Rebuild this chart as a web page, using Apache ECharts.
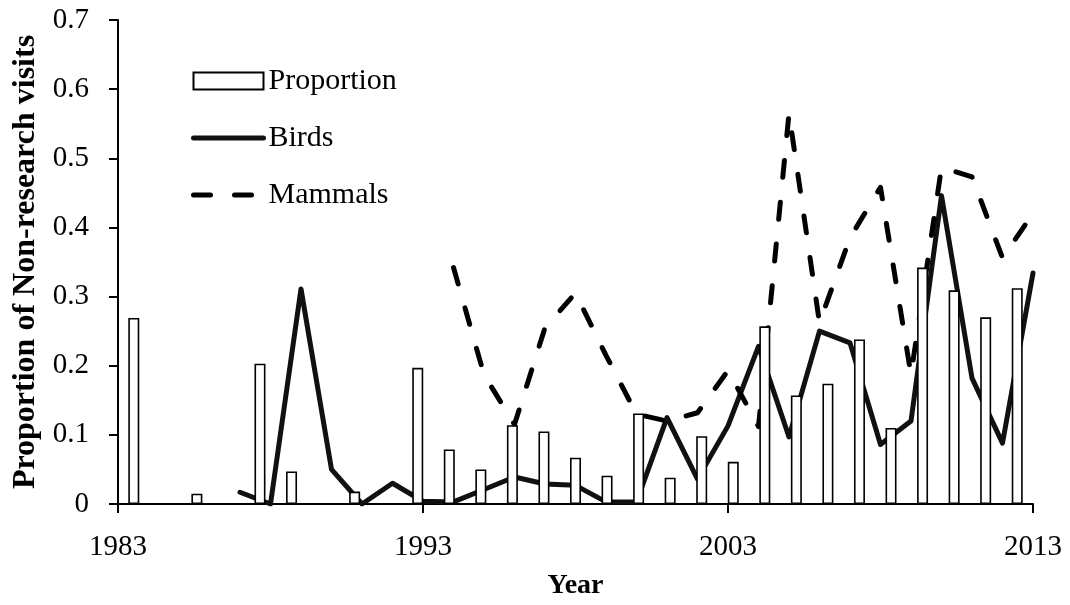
<!DOCTYPE html>
<html>
<head>
<meta charset="utf-8">
<script src="https://cdn.jsdelivr.net/npm/echarts@6/dist/echarts.min.js"></script>
<style>
html,body{margin:0;padding:0;background:#fff;}
#chart{width:1070px;height:605px;}
</style>
</head>
<body>
<div id="chart"></div>
<script>
// Year axis (line series) and tick labels
var years = [];
for (var y = 1983; y <= 2013; y++) years.push(String(y));

// Bar categories (29 bars spanning the plot)
var barCategories = ['1983','1984','1985','1986','1987','1988','1989','1990','1991','1992',
  '1993','1994','1995','1996','1997','1998','1999','2000','2001','2002',
  '2003','2004','2005','2006','2007','2008','2009','2010','2011'];
var proportionValues = [0.269, null, 0.015, null, 0.203, 0.047, null, 0.018, null, 0.197,
  0.079, 0.050, 0.114, 0.105, 0.067, 0.041, 0.131, 0.038, 0.098, 0.061,
  0.257, 0.157, 0.174, 0.238, 0.110, 0.342, 0.309, 0.270, 0.312];

// Birds: 1983..2013
var birdsValues = [null, null, null, null, 0.017, 0.000, 0.311, 0.050, 0.000, 0.030,
  0.004, 0.003, 0.021, 0.039, 0.029, 0.027, 0.003, 0.003, 0.125, 0.036,
  0.113, 0.228, 0.097, 0.250, 0.233, 0.086, 0.120, 0.446, 0.182, 0.088, 0.334];

// Mammals: 1983..2013
var mammalsValues = [null, null, null, null, null, null, null, null, null, null,
  null, 0.342, 0.187, 0.115, 0.255, 0.305, 0.215, 0.130, 0.120, 0.132,
  0.193, 0.112, 0.565, 0.262, 0.385, 0.458, 0.187, 0.487, 0.473, 0.356, 0.420];

var FONT = "'Liberation Serif', 'Times New Roman', serif";

var chart = echarts.init(document.getElementById('chart'), null, {renderer: 'canvas'});
chart.setOption({
  animation: false,
  backgroundColor: '#ffffff',
  grid: {left: 118, right: 37, top: 20, bottom: 100, containLabel: false},
  legend: {
    orient: 'vertical',
    left: 186,
    top: 61,
    itemWidth: 70,
    itemHeight: 17,
    itemGap: 27,
    textStyle: {fontFamily: FONT, fontSize: 30, color: '#000'},
    data: [
      {name: 'Proportion', icon: 'rect'},
      {name: 'Birds', itemStyle: {opacity: 0},
        lineStyle: {width: 5, color: '#111', cap: 'round'}},
      {name: 'Mammals', itemStyle: {opacity: 0},
        lineStyle: {width: 5, color: '#000', type: [17, 24], cap: 'round'}}
    ]
  },
  xAxis: [
    {
      type: 'category',
      data: years,
      boundaryGap: false,
      position: 'bottom',
      name: 'Year',
      nameLocation: 'middle',
      nameGap: 68,
      nameTextStyle: {fontFamily: FONT, fontSize: 28, fontWeight: 'bold', color: '#000'},
      axisLine: {lineStyle: {color: '#000', width: 2}},
      axisTick: {show: true, interval: 9, length: 9, inside: false, lineStyle: {color: '#000', width: 2}},
      axisLabel: {interval: 9, fontFamily: FONT, fontSize: 29, color: '#000', margin: 29},
      splitLine: {show: false}
    },
    {
      type: 'category',
      data: barCategories,
      boundaryGap: true,
      position: 'bottom',
      show: false
    }
  ],
  yAxis: {
    type: 'value',
    min: 0,
    max: 0.7,
    interval: 0.1,
    name: 'Proportion of Non-research visits',
    nameLocation: 'middle',
    nameGap: 76,
    nameTextStyle: {fontFamily: FONT, fontSize: 32, fontWeight: 'bold', color: '#000'},
    axisLine: {show: true, lineStyle: {color: '#000', width: 2}},
    axisTick: {show: true, length: 9, lineStyle: {color: '#000', width: 2}},
    axisLabel: {fontFamily: FONT, fontSize: 29, color: '#000', margin: 29,
      formatter: function (v) { return String(Math.round(v * 10) / 10); }},
    splitLine: {show: false}
  },
  series: [
    {
      name: 'Birds',
      type: 'line',
      xAxisIndex: 0,
      data: birdsValues,
      symbol: 'none',
      z: 2,
      lineStyle: {color: '#111', width: 5, cap: 'round', join: 'round'},
      itemStyle: {color: '#111'}
    },
    {
      name: 'Mammals',
      type: 'line',
      xAxisIndex: 0,
      data: mammalsValues,
      symbol: 'none',
      z: 2,
      lineStyle: {color: '#000', width: 5, type: [17, 25], cap: 'round', join: 'round'},
      itemStyle: {color: '#000'}
    },
    {
      name: 'Proportion',
      type: 'bar',
      xAxisIndex: 1,
      data: proportionValues,
      barWidth: 11,
      z: 5,
      itemStyle: {color: '#ffffff', borderColor: '#000', borderWidth: 1.6}
    }
  ]
});
</script>
</body>
</html>
